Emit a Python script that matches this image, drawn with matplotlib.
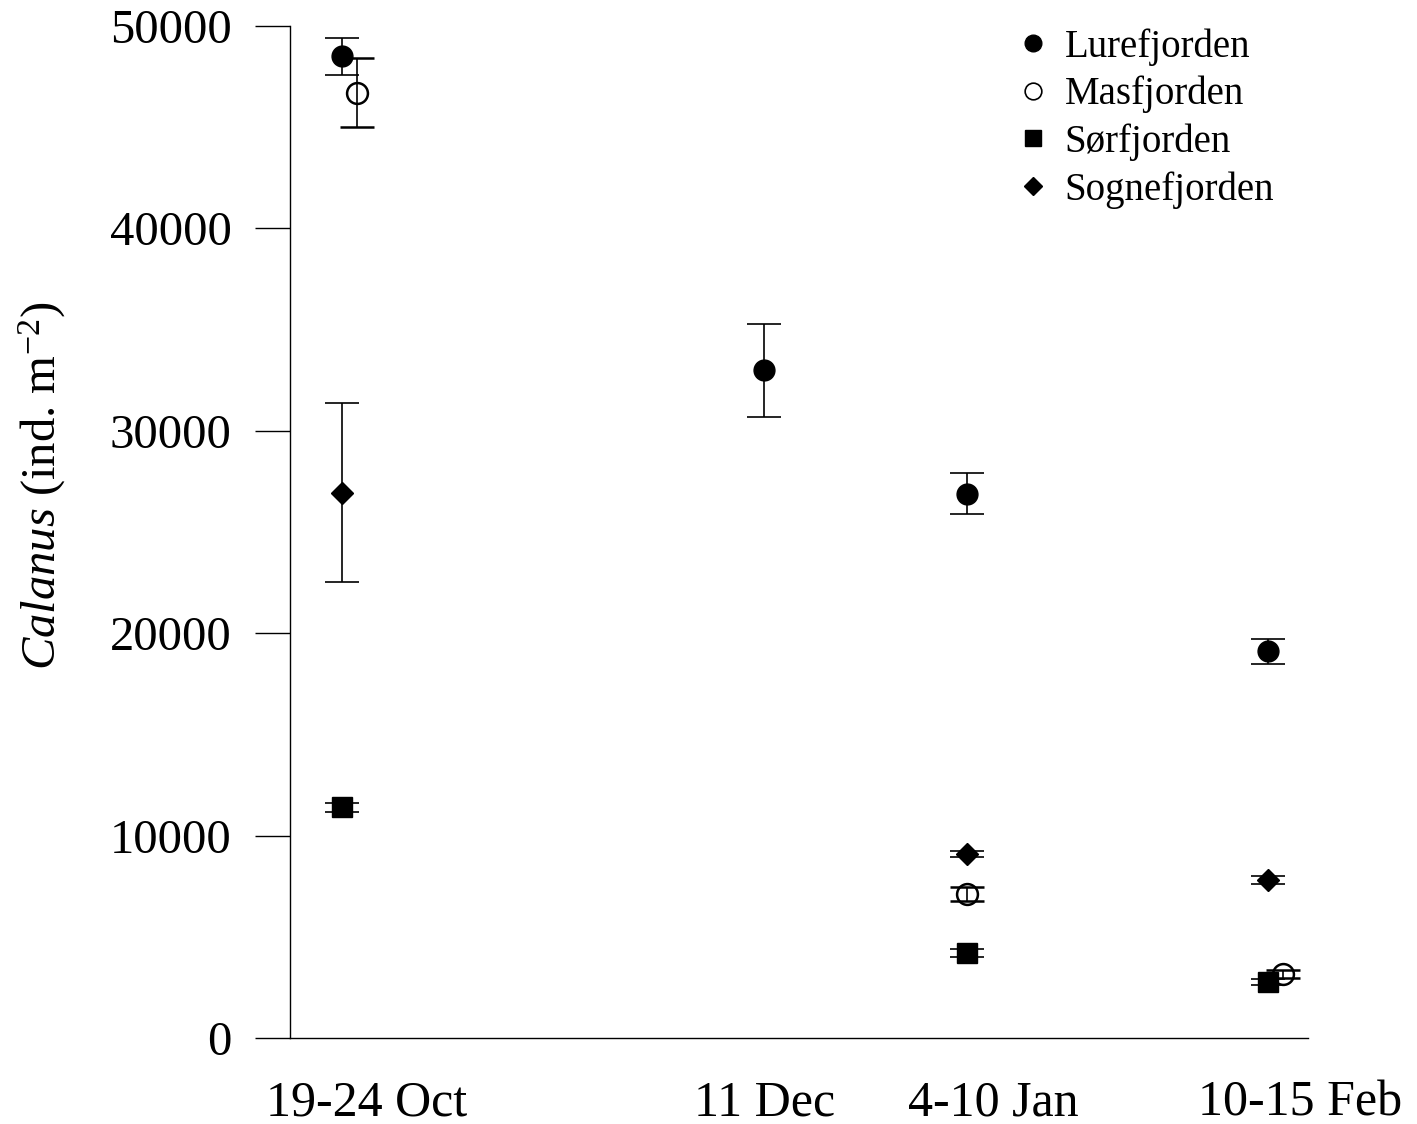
import matplotlib
matplotlib.use("Agg")
import matplotlib.pyplot as plt
from matplotlib.lines import Line2D

# x positions: approximate days since 21 Oct
date_labels = ["19-24 Oct", "11 Dec", "4-10 Jan", "10-15 Feb"]
label_pos = [3.0, 51.6, 79.5, 116.9]

lure_x = [0, 51.5, 76.3, 113]
lure_y = [48500, 33000, 26900, 19100]
lure_e = [900, 2300, 1000, 600]

mas_x = [1.8, 76.3, 114.8]
mas_y = [46700, 7100, 3150]
mas_e = [1700, 350, 200]

sor_x = [0, 76.3, 113]
sor_y = [11400, 4200, 2750]
sor_e = [220, 220, 150]

sogn_x = [0, 76.3, 113]
sogn_y = [26950, 9100, 7800]
sogn_e = [4400, 150, 200]

plt.rcParams['font.family'] = ['Liberation Serif', 'DejaVu Serif']
plt.rcParams['mathtext.fontset'] = 'custom'
plt.rcParams['mathtext.rm'] = 'Liberation Serif'
plt.rcParams['mathtext.it'] = 'Liberation Serif:italic'

fig = plt.figure(figsize=(14.17, 11.24), dpi=100)
ax = fig.add_axes([0.2047, 0.0765, 0.9231 - 0.2047, 0.9769 - 0.0765])

ekw = dict(ecolor='black', elinewidth=1.2, capsize=12, capthick=1.2, linestyle='none')
ms = 15
ax.errorbar(sor_x, sor_y, yerr=sor_e, marker='s', ms=ms * 0.95, mfc='black', mec='black', **ekw, zorder=3)
ax.errorbar(sogn_x, sogn_y, yerr=sogn_e, marker='D', ms=ms * 0.72, mfc='black', mec='black', **ekw, zorder=3)
ax.errorbar(lure_x, lure_y, yerr=lure_e, marker='o', ms=ms, mfc='black', mec='black', **ekw, zorder=3)
ax.errorbar(mas_x, mas_y, yerr=mas_e, marker='o', ms=ms, mfc='none', mec='black', mew=1.8, **ekw, zorder=4)

ax.set_xlim(-6.35, 117.9)
ax.set_ylim(0, 50000)
ax.set_yticks([0, 10000, 20000, 30000, 40000, 50000])
ax.set_xticks(label_pos)
ax.set_xticklabels(date_labels)

for s in ['top', 'right']:
    ax.spines[s].set_visible(False)
for s in ['left', 'bottom']:
    ax.spines[s].set_linewidth(1.0)

ax.tick_params(axis='y', direction='out', length=25, width=1, pad=17, labelsize=35)
ax.tick_params(axis='x', length=0, pad=30, labelsize=36)

ax.set_ylabel(r'$\mathit{Calanus}$ (ind. m$^{-2}$)', fontsize=35, va='center')
ax.yaxis.set_label_coords(-0.2436, 0.546)

handles = [
    Line2D([], [], marker='o', ls='none', ms=12, mfc='black', mec='black'),
    Line2D([], [], marker='o', ls='none', ms=12, mfc='none', mec='black', mew=1.2),
    Line2D([], [], marker='s', ls='none', ms=12, mfc='black', mec='black'),
    Line2D([], [], marker='D', ls='none', ms=9, mfc='black', mec='black'),
]
labels = ['Lurefjorden', 'Masfjorden', 'Sørfjorden', 'Sognefjorden']
leg = fig.legend(handles, labels, loc='upper left', bbox_to_anchor=(0.7156, 0.975),
                 frameon=False, fontsize=28, handlelength=1.0, handletextpad=0.3,
                 labelspacing=0.26, borderaxespad=0, borderpad=0)

fig.savefig('out.png', dpi=100)
